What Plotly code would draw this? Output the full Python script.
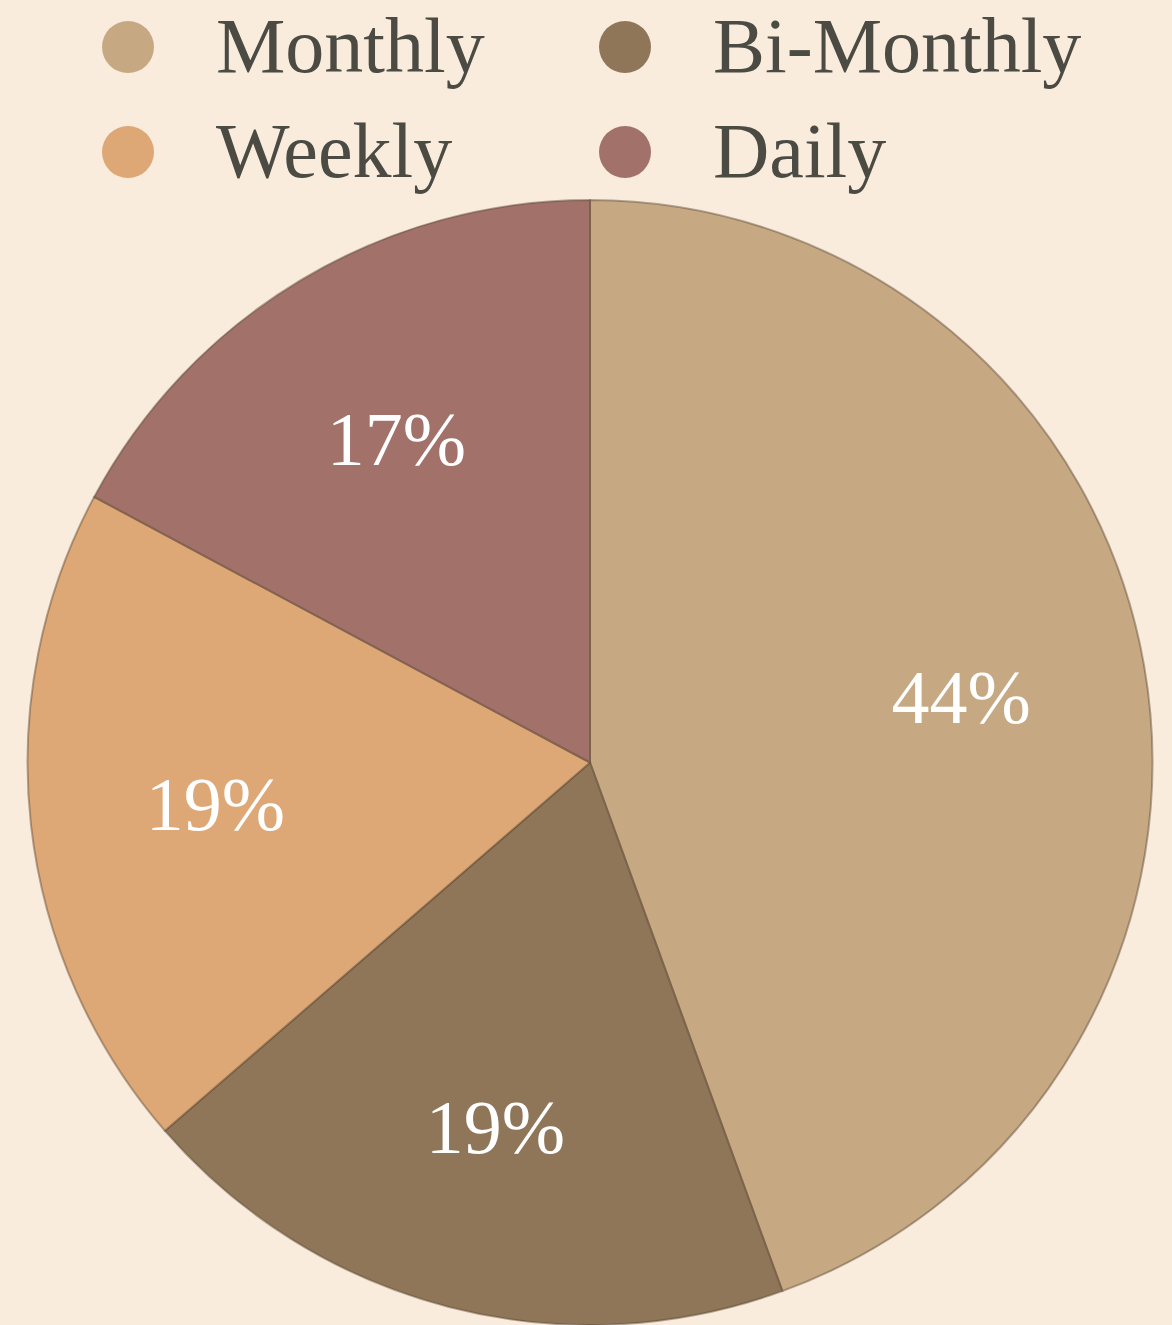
import plotly.graph_objects as go

categories = ["Monthly", "Bi-Monthly", "Weekly", "Daily"]
values = [44, 19, 19, 17]
colors = ["#C6A883", "#8F7658", "#DDA776", "#A1716A"]

W, H = 1172, 1325
BG = "#F9ECDD"
domain = dict(x=[27.5 / W, 1152.5 / W], y=[0, 1 - 200 / H])

fig = go.Figure()
# Filled pie with slice borders
fig.add_trace(go.Pie(
    labels=categories,
    values=values,
    sort=False,
    direction="clockwise",
    rotation=0,
    marker=dict(colors=colors, line=dict(color="rgba(90,70,50,0.45)", width=2)),
    textinfo="none",
    domain=domain,
    showlegend=False,
    hoverinfo="label+percent",
))
# Transparent ring on top carrying the percentage labels (places them further out)
fig.add_trace(go.Pie(
    labels=categories,
    values=values,
    sort=False,
    direction="clockwise",
    rotation=0,
    hole=0.34,
    marker=dict(colors=["rgba(0,0,0,0)"] * len(values), line=dict(width=0)),
    texttemplate="%{percent:.0%}",
    textposition="inside",
    insidetextorientation="horizontal",
    textfont=dict(family="Liberation Serif", size=76, color="#FFFFFF"),
    domain=domain,
    showlegend=False,
    hoverinfo="skip",
))

# Manual legend (2 x 2 grid with circular markers)
legend_pos = [(128, 47), (625, 47), (128, 152), (625, 152)]
shapes = []
annotations = []
for cat, col, (cx, cy) in zip(categories, colors, legend_pos):
    shapes.append(dict(
        type="circle", xref="paper", yref="paper",
        xsizemode="pixel", ysizemode="pixel",
        xanchor=cx / W, yanchor=1 - cy / H,
        x0=-26, x1=26, y0=-26, y1=26,
        fillcolor=col, line=dict(width=0),
    ))
    annotations.append(dict(
        text=cat, xref="paper", yref="paper",
        x=(cx + 86) / W, y=1 - (cy - 1) / H,
        xanchor="left", yanchor="middle", showarrow=False,
        font=dict(family="Liberation Serif", size=78, color="#4B4B43"),
    ))

fig.update_layout(
    width=W, height=H,
    margin=dict(l=0, r=0, t=0, b=0),
    paper_bgcolor=BG,
    plot_bgcolor=BG,
    shapes=shapes,
    annotations=annotations,
)

fig.write_html(
    "out.html",
    config={"displayModeBar": False},
    post_script="document.body.style.margin='0';document.body.style.background='%s';" % BG,
)
